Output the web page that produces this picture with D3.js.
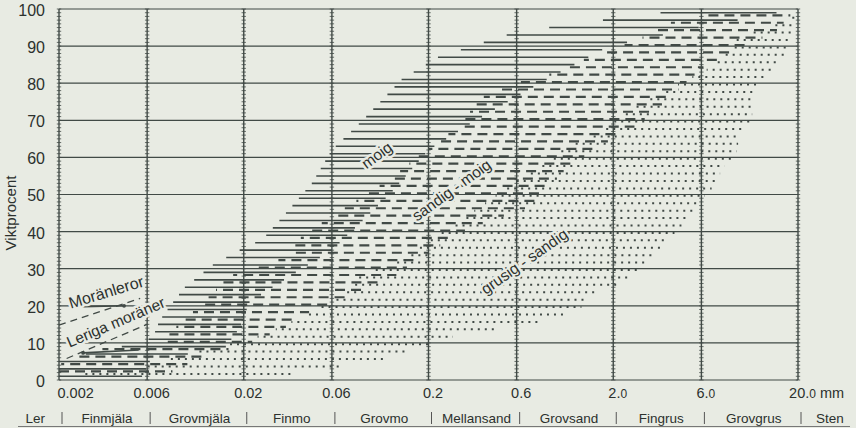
<!DOCTYPE html>
<html>
<head>
<meta charset="utf-8">
<script src="https://cdn.jsdelivr.net/npm/d3@7"></script>
<style>
  html, body { margin: 0; padding: 0; background: #e8ebe3; }
  svg { display: block; }
</style>
</head>
<body>
<div id="chart"></div>
<script>
// grain size limits (mm) on the log axis
const sizeTicks = [0.002, 0.006, 0.02, 0.06, 0.2, 0.6, 2, 6, 20];
const sizeTickLabels = ['0.002', '0.006', '0.02', '0.06', '0.2', '0.6', '2.0', '6.0', '20.0'];
// fraction names, one per interval (outer ones run past the axis)
const classLimits = [0.001, 0.002, 0.006, 0.02, 0.06, 0.2, 0.6, 2, 6, 20, 40];
const classNames = ['Ler', 'Finmjäla', 'Grovmjäla', 'Finmo', 'Grovmo', 'Mellansand', 'Grovsand', 'Fingrus', 'Grovgrus', 'Sten'];
const percentTicks = [0, 10, 20, 30, 40, 50, 60, 70, 80, 90, 100];

// hatched bands, edges as [viktprocent, mm]
// solid lines: moig
const moigLeft = [[0, 0.002], [5, 0.002], [8, 0.0033], [10, 0.0058], [12, 0.0065], [16, 0.007], [20, 0.008], [25, 0.0096], [31, 0.0136], [35, 0.019], [38, 0.0254], [44, 0.0325], [53, 0.0467], [62, 0.06], [70, 0.088], [81, 0.143], [87, 0.225], [93, 0.53], [95, 0.9], [97.5, 2.08], [100, 5.2]];
const moigRight = [[0, 0.0055], [5, 0.0062], [9, 0.016], [14, 0.019], [21, 0.0215], [28, 0.0355], [35, 0.06], [50, 0.123], [62, 0.2], [70, 0.36], [80, 0.8], [90, 1.9], [95, 5.8], [100, 19.5]];
// dashes: sandig-moig
const sandigMoigLeft = [[0, 0.002], [4, 0.002], [6, 0.0024], [8.6, 0.0036], [10, 0.0072], [14, 0.0085], [20, 0.0116], [28, 0.0168], [33, 0.034], [39, 0.0417], [50, 0.092], [54, 0.123], [59, 0.164], [64, 0.221], [69, 0.305], [75, 0.363], [78, 0.45], [80, 0.6], [83, 1.02], [87, 1.48], [91, 2.53], [94, 3.41], [96.5, 4.17], [98, 6.05], [100, 8]];
const sandigMoigRight = [[0, 0.006], [2, 0.008], [6, 0.0116], [10, 0.0215], [14, 0.0333], [17.5, 0.04], [20, 0.0584], [27, 0.123], [34, 0.195], [40, 0.305], [42, 0.378], [47, 0.73], [57, 1.11], [63, 1.68], [69, 2.76], [76, 4.02], [84, 6], [89, 9.25], [94, 15.2], [100, 19.5]];
// dots: grusig-sandig
const grusigSandigLeft = [[0, 0.002], [1, 0.002], [3, 0.0055], [7, 0.0098], [12, 0.0254], [18, 0.0455], [23, 0.066], [28, 0.0847], [32, 0.134], [35, 0.172], [49, 0.444], [54, 0.598], [62, 1.06], [66, 1.54], [71, 2.24], [76, 3.13], [78, 3.87], [84, 6.61], [89, 8.47], [92, 8.79], [94, 11.3], [96, 15.8], [98, 19], [100, 19.5]];
const grusigSandigRight = [[0, 0.03], [2, 0.04], [5, 0.109], [8, 0.164], [10, 0.221], [12, 0.283], [15, 0.703], [17, 0.984], [19, 1.31], [23, 1.54], [27, 2.44], [31, 3.01], [35, 3.55], [39, 4.17], [43, 4.96], [47, 5.62], [53, 7.21], [57, 7.77], [61, 9.25], [65, 9.6], [71, 11.3], [76, 11.3], [79, 11.9], [84, 14.5], [89, 17.9], [96, 19.5], [100, 19.5]];

// dashed limits in the clay corner, [mm, viktprocent]
const moranlerorLimit = [[0.002, 14.8], [0.0055, 22]];
const larigaLimit = [[0.0022, 5.8], [0.006, 15]];
// pointer lines under the clay labels, [mm, viktprocent]
const moranlerorPointer = [[0.0024, 19.7], [0.0045, 20.0]];
const larigaPointer = [[0.0027, 7.3], [0.0054, 8.1]];

// labels in the field: text, mm, viktprocent, angle
const fieldLabels = [
  ['moig', 0.105, 60.6, -36],
  ['sandig - moig', 0.266, 51.2, -36],
  ['grusig - sandig', 0.66, 32, -35],
  ['Moränleror', 0.0036, 23.7, -17],
  ['Leriga moräner', 0.00406, 15.6, -23]
];

const W = 856, H = 428;
const paper = '#e8ebe3';
const ink = '#414a46';
const textColor = '#2c312e';
const font = '"Liberation Sans", Arial, Helvetica, sans-serif';

const x = d3.scaleLog().domain([0.002, 20]).range([59, 798]);
const y = d3.scaleLinear().domain([0, 100]).range([380, 9]);

const svg = d3.select('#chart').append('svg')
  .attr('width', W)
  .attr('height', H)
  .attr('font-family', font);

svg.append('rect').attr('width', W).attr('height', H).attr('fill', paper);

svg.append('clipPath').attr('id', 'plot')
  .append('rect')
  .attr('x', x(0.002)).attr('y', y(100))
  .attr('width', x(20) - x(0.002)).attr('height', y(0) - y(100));

// hatching
const hatch = svg.append('g').attr('clip-path', 'url(#plot)');

function edgeScale(points) {
  return d3.scaleLinear()
    .domain(points.map(d => d[0]))
    .range(points.map(d => Math.log10(d[1])))
    .clamp(true);
}

function drawBand(left, right, phase, style) {
  const fl = edgeScale(left);
  const fr = edgeScale(right);
  const rows = d3.range(phase, 100, 2)
    .filter(p => p >= 1)
    .map((p, i) => ({ p, i, a: x(10 ** fl(p)), b: x(10 ** fr(p)) }))
    .filter(d => d.b - d.a > 3);

  hatch.append('g').selectAll('line')
    .data(rows)
    .join('line')
    .attr('x1', d => d.a)
    .attr('x2', d => d.b)
    .attr('y1', d => y(d.p))
    .attr('y2', d => y(d.p))
    .attr('stroke', ink)
    .attr('stroke-width', style.width)
    .attr('stroke-dasharray', style.dash)
    .attr('stroke-dashoffset', d => (d.i * 7) % 17);
}

drawBand(moigLeft, moigRight, 1.0, { width: 1.6, dash: null });
drawBand(sandigMoigLeft, sandigMoigRight, 0.3, { width: 2.2, dash: '10 6' });
drawBand(grusigSandigLeft, grusigSandigRight, 1.65, { width: 2, dash: '2 5' });

// grid
const grid = svg.append('g');
grid.selectAll('line.h')
  .data(percentTicks)
  .join('line')
  .attr('class', 'h')
  .attr('x1', x(0.002)).attr('x2', x(20))
  .attr('y1', d => y(d)).attr('y2', d => y(d))
  .attr('stroke', ink).attr('stroke-width', 1.2);

grid.selectAll('line.v')
  .data(sizeTicks)
  .join('line')
  .attr('class', 'v')
  .attr('x1', d => x(d)).attr('x2', d => x(d))
  .attr('y1', y(0)).attr('y2', y(100))
  .attr('stroke', ink).attr('stroke-width', 1.4);

// ruler ticks on the vertical lines
const minor = d3.range(0, 100.01, 1);
sizeTicks.forEach(s => {
  grid.append('g').selectAll('line')
    .data(minor)
    .join('line')
    .attr('x1', x(s) - 2.2).attr('x2', x(s) + 2.2)
    .attr('y1', d => y(d)).attr('y2', d => y(d))
    .attr('stroke', ink).attr('stroke-width', 0.8);
});

// dashed limits of the clay tills
const limitLine = d3.line().x(d => x(d[0])).y(d => y(d[1]));
[moranlerorLimit, larigaLimit].forEach(pts => {
  svg.append('path')
    .attr('d', limitLine(pts))
    .attr('fill', 'none')
    .attr('stroke', ink)
    .attr('stroke-width', 1.3)
    .attr('stroke-dasharray', '7 5');
});

// pointers
[[moranlerorPointer, 1], [larigaPointer, 0]].forEach(([pts, end]) => {
  svg.append('path')
    .attr('d', limitLine(pts))
    .attr('stroke', ink).attr('stroke-width', 1.6);
  svg.append('circle')
    .attr('cx', x(pts[end][0])).attr('cy', y(pts[end][1]))
    .attr('r', 1.9).attr('fill', ink);
});

// field labels
svg.append('g').selectAll('text')
  .data(fieldLabels)
  .join('text')
  .attr('transform', d => `translate(${x(d[1])},${y(d[2])}) rotate(${d[3]})`)
  .attr('text-anchor', 'middle')
  .attr('dy', '0.35em')
  .style('font-size', d => (d[0] === 'Moränleror' ? 16 : 15.5) + 'px')
  .attr('fill', textColor)
  .attr('stroke', paper)
  .attr('stroke-width', 5)
  .attr('paint-order', 'stroke')
  .attr('stroke-linejoin', 'round')
  .text(d => d[0]);

// y axis
const yAxis = svg.append('g')
  .attr('transform', `translate(${x(0.002)},0)`)
  .call(d3.axisLeft(y).tickValues(percentTicks).tickSize(0).tickPadding(14));
yAxis.select('.domain').remove();
yAxis.selectAll('text')
  .attr('fill', textColor)
  .attr('dy', '0.4em')
  .style('font-family', font)
  .style('font-size', '16px');

svg.append('text')
  .attr('transform', `translate(16,213) rotate(-90)`)
  .attr('text-anchor', 'middle')
  .style('font-size', '15px')
  .attr('fill', textColor)
  .text('Viktprocent');

// x axis
const xAxis = svg.append('g')
  .attr('transform', `translate(0,${y(0)})`)
  .call(d3.axisBottom(x).tickValues(sizeTicks).tickFormat((d, i) => sizeTickLabels[i]).tickSize(0).tickPadding(8));
xAxis.select('.domain').remove();
xAxis.selectAll('text')
  .attr('fill', textColor)
  .attr('dx', 4)
  .style('font-family', font)
  .style('font-size', '14.5px')
  .each(function(d, i) {
    const t = sizeTickLabels[i];
    const sel = d3.select(this);
    if (i === 0) sel.attr('text-anchor', 'start').attr('dx', -2);
    if (t.endsWith('.0')) {
      sel.text(t.slice(0, -1));
      sel.append('tspan').style('font-size', '12px').text('0');
    }
  });

svg.append('text')
  .attr('x', x(20) + 22).attr('y', y(0) + 8)
  .attr('dy', '0.71em')
  .style('font-size', '14.5px')
  .attr('fill', textColor)
  .text('mm');

// fraction names
const classes = classNames.map((name, i) => ({ name, mid: Math.sqrt(classLimits[i] * classLimits[i + 1]) }));
svg.append('g').selectAll('text')
  .data(classes)
  .join('text')
  .attr('x', d => x(d.mid) + 4)
  .attr('y', 423)
  .attr('text-anchor', 'middle')
  .style('font-size', '13.5px')
  .attr('fill', textColor)
  .text(d => d.name);

svg.append('g').selectAll('line')
  .data(sizeTicks)
  .join('line')
  .attr('x1', d => x(d) + 3).attr('x2', d => x(d) + 3)
  .attr('y1', 412).attr('y2', 424)
  .attr('stroke', '#555').attr('stroke-width', 1);

svg.append('line')
  .attr('x1', 18).attr('x2', 850)
  .attr('y1', 426.5).attr('y2', 426.5)
  .attr('stroke', '#777').attr('stroke-width', 1);
</script>
</body>
</html>
